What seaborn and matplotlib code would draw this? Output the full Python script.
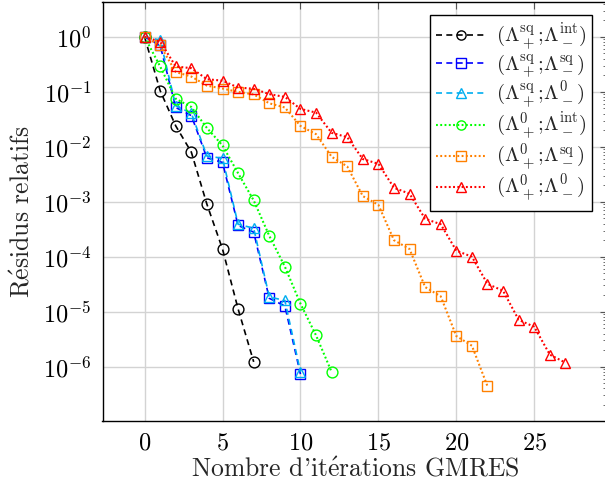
import matplotlib
matplotlib.use("Agg")
import matplotlib.pyplot as plt
import numpy as np
import pandas as pd
import seaborn as sns
from matplotlib.ticker import LogLocator, NullFormatter, FixedLocator

# ---- data ----
labels = [
    r"$(\Lambda_+^{\mathrm{sq}};\!\Lambda_-^{\mathrm{int}})$",
    r"$(\Lambda_+^{\mathrm{sq}};\!\Lambda_-^{\mathrm{sq}})$",
    r"$(\Lambda_+^{\mathrm{sq}};\!\Lambda_-^{0})$",
    r"$(\Lambda_+^{0};\!\Lambda_-^{\mathrm{int}})$",
    r"$(\Lambda_+^{0};\!\Lambda_-^{\mathrm{sq}})$",
    r"$(\Lambda_+^{0};\!\Lambda_-^{0})$",
]
res_sq_int = [1, 0.105, 0.024, 0.0080, 9.0e-4, 1.38e-4, 1.12e-5, 1.22e-6]
res_sq_sq = [1, 0.70, 0.052, 0.037, 0.0063, 0.0052, 3.7e-4, 2.8e-4, 1.75e-5, 1.27e-5, 7.3e-7]
res_sq_0 = [1, 0.88, 0.056, 0.041, 0.0068, 0.0062, 3.9e-4, 3.3e-4, 1.85e-5, 1.6e-5, 8.0e-7]
res_0_int = [1, 0.29, 0.075, 0.053, 0.022, 0.0106, 0.0033, 1.06e-3, 2.4e-4, 6.6e-5,
             1.4e-5, 3.7e-6, 8.0e-7]
res_0_sq = [1, 0.70, 0.23, 0.19, 0.13, 0.115, 0.10, 0.09, 0.062, 0.052, 0.024, 0.017,
            0.0066, 0.0044, 1.27e-3, 8.8e-4, 2.0e-4, 1.38e-4, 2.8e-5, 1.9e-5, 3.6e-6,
            2.4e-6, 4.4e-7]
res_0_0 = [1, 0.82, 0.29, 0.27, 0.17, 0.16, 0.12, 0.114, 0.091, 0.081, 0.049, 0.042,
           0.018, 0.015, 6.0e-3, 4.9e-3, 1.8e-3, 1.4e-3, 4.9e-4, 3.9e-4, 1.29e-4, 1.0e-4,
           3.2e-5, 2.4e-5, 7.1e-6, 5.3e-6, 1.65e-6, 1.18e-6]
series = [res_sq_int, res_sq_sq, res_sq_0, res_0_int, res_0_sq, res_0_0]

x_ticks = [0, 5, 10, 15, 20, 25]
y_ticks = [1e0, 1e-1, 1e-2, 1e-3, 1e-4, 1e-5, 1e-6]

# ---- styles ----
colors = ["black", "#0000ff", "#00aef0", "#00ff00", "#ff8000", "#ff0000"]
markers = ["o", "s", "^", "o", "s", "^"]
dashed = (3.6, 2.6)
dotted = (0.9, 1.15)
dashes = [dashed, dashed, dashed, dotted, dotted, dotted]
widths = [1.2, 1.2, 1.2, 1.5, 1.5, 1.5]

sns.set_theme(style="whitegrid")
plt.rcParams.update({
    "font.family": ["cmr10", "DejaVu Serif"],
    "mathtext.fontset": "cm",
    "axes.formatter.use_mathtext": True,
    "axes.unicode_minus": False,
    "font.size": 17,
})

fig = plt.figure(figsize=(6.05, 4.91), dpi=100)
W, H = 605, 491
left, right, top, bottom = 102.5, 607.5, 2, 421
ax = fig.add_axes([left / W, 1 - bottom / H, (right - left) / W, (bottom - top) / H])

for lab, ys, c, m, d, w in zip(labels, series, colors, markers, dashes, widths):
    df = pd.DataFrame({"it": np.arange(len(ys)), "res": ys})
    sns.lineplot(data=df, x="it", y="res", ax=ax, color=c, marker=m, dashes=False,
                 lw=w, markersize=7.8, markerfacecolor="none", markeredgecolor=c,
                 markeredgewidth=1.0, label=lab, zorder=3)
    ln = ax.lines[-1]
    ln.set_dashes(d)

ax.set_yscale("log")
ax.set_xlim(-2.7, 29.7)
ax.set_ylim(10 ** -6.99, 10 ** 0.636)
ax.xaxis.set_major_locator(FixedLocator(x_ticks))
ax.yaxis.set_major_locator(FixedLocator(y_ticks))
ax.yaxis.set_minor_locator(LogLocator(base=10, subs=np.arange(2, 10), numticks=20))
ax.yaxis.set_minor_formatter(NullFormatter())

ax.grid(True, which="major", color="#d3d3d3", lw=1.0)
ax.grid(False, which="minor")
ax.set_axisbelow(True)
for s in ax.spines.values():
    s.set_color("black")
    s.set_linewidth(1.0)
ax.tick_params(which="both", direction="in", top=True, right=True, colors="#555555",
               labelcolor="black", labelsize=17.5)
ax.tick_params(which="major", length=5.2, width=0.8, pad=8)
ax.tick_params(which="minor", length=3.2, width=0.6)

ax.set_xlabel("Nombre d'it$\\mathrm{\\acute{e}}$rations GMRES", fontsize=18.5, labelpad=2)
ax.set_ylabel("R$\\mathrm{\\acute{e}}$sidus relatifs", fontsize=18.5, labelpad=6)

ax_w, ax_h = right - left, bottom - top
leg = ax.legend(loc="upper right", bbox_to_anchor=(1 - 15.5 / ax_w, 1 - 12.7 / ax_h),
                borderaxespad=0, fontsize=15, frameon=True, fancybox=False,
                edgecolor="black", framealpha=1, handlelength=2.4, markerscale=0.85,
                labelspacing=-0.03, handletextpad=0.45, borderpad=0.3)
leg.get_frame().set_linewidth(1.0)

fig.savefig("out.png", dpi=100)
